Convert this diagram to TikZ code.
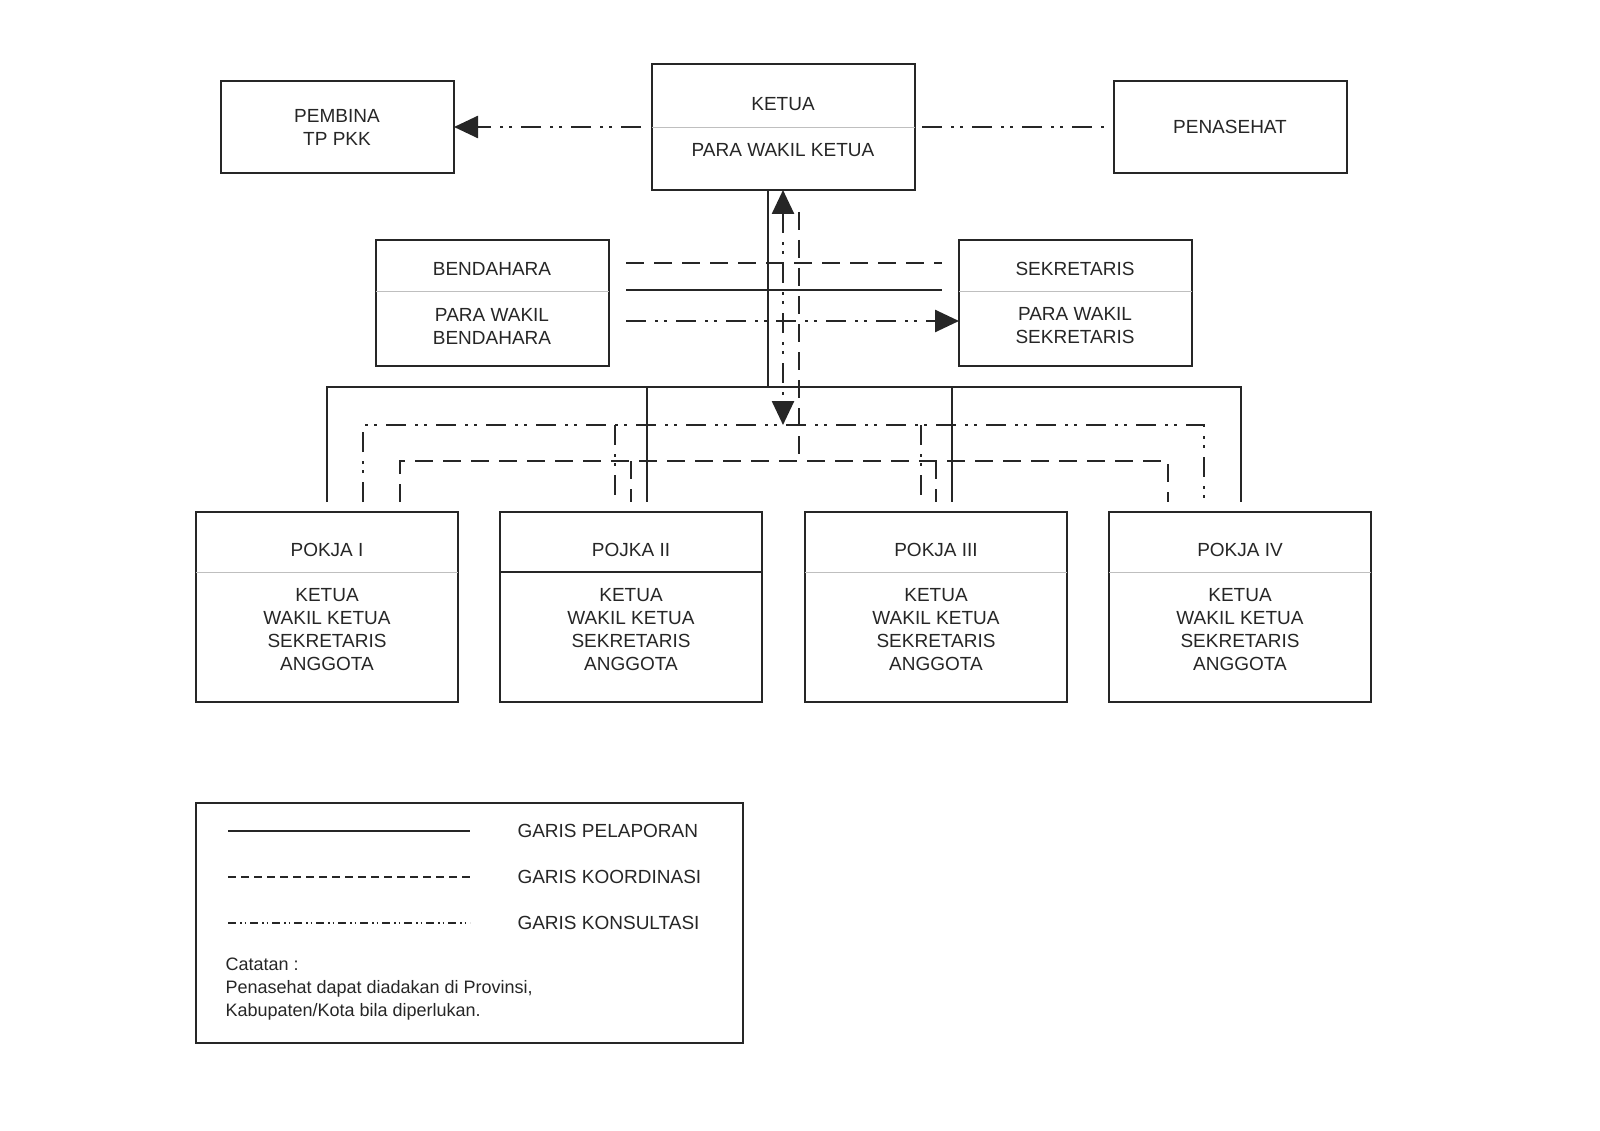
\documentclass[tikz,border=0pt]{standalone}
\usepackage{fontspec}
\setmainfont{Liberation Sans}
\usetikzlibrary{arrows.meta}
\begin{document}
\begin{tikzpicture}[x=1pt,y=-1pt,
  box/.style={draw=black!85,line width=2.6pt},
  lap/.style={draw=black!85,line width=2.6pt},
  koor/.style={draw=black!85,line width=2.6pt,dash pattern=on 18pt off 10pt},
  kons/.style={draw=black!85,line width=2.6pt,dash pattern=on 20pt off 9pt on 3pt off 6pt on 3pt off 9pt},
  div/.style={draw=black!25,line width=0.8pt},
  tx/.style={font=\fontsize{19}{23}\selectfont,align=center,text=black!85},
  tip/.style={-{Triangle[length=24pt,width=22pt]}}]
\useasboundingbox (0,0) rectangle (1600,1131);
% boxes
\draw[box] (221,81) rectangle (454,173); \node[tx] (pembina) at (337,127) {PEMBINA\\TP PKK};
\coordinate (pembinaR) at (454,127);
\draw[box] (652,64) rectangle (915,190); \draw[div] (652,127)--(915,127);
\node[tx] (ketua) at (783,104) {KETUA}; \node[tx] (pwk) at (783,150) {PARA WAKIL KETUA};
\draw[box] (1114,81) rectangle (1347,173); \node[tx] (penasehat) at (1230,127) {PENASEHAT};
\draw[box] (376,240) rectangle (609,366); \draw[div] (376,291)--(609,291);
\node[tx] (bend) at (492,269) {BENDAHARA}; \node[tx] (pwb) at (492,326) {PARA WAKIL\\BENDAHARA};
\draw[box] (959,240) rectangle (1192,366); \draw[div] (959,291)--(1192,291);
\node[tx] (sek) at (1075,269) {SEKRETARIS}; \node[tx] (pws) at (1075,326) {PARA WAKIL\\SEKRETARIS};
\foreach \x/\t/\n in {196/POKJA I/1,500/POJKA II/2,805/POKJA III/3,1109/POKJA IV/4}{
  \draw[box] (\x,512) rectangle (\x+262,702);
  \node[tx] (p\n) at (\x+131,550) {\t};
  \node[tx] (m\n) at (\x+131,630) {KETUA\\WAKIL KETUA\\SEKRETARIS\\ANGGOTA};
}
\foreach \x in {196,805,1109} \draw[div] (\x,572)--(\x+262,572);
\draw[draw=black!85,line width=2.6pt] (500,572)--(762,572);
% top connectors
\draw[kons,tip] (641,127) -- (pembinaR);
\draw[kons] (922,127) -- (1104,127);
% bendahara-sekretaris
\draw[koor] (626,263) -- (942,263);
\draw[lap] (626,290) -- (942,290);
\draw[kons,tip] (626,321) -- (959,321);
% solid tree
\draw[lap] (768,190) -- (768,387);
\draw[lap] (327,502) -- (327,387) -- (1241,387) -- (1241,502);
\draw[lap] (647,387) -- (647,502); \draw[lap] (952,387) -- (952,502);
% konsultasi tree
\draw[kons,{Triangle[length=24pt,width=22pt]}-{Triangle[length=24pt,width=22pt]}] (783,190) -- (783,425);
\draw[kons] (363,502) -- (363,425) -- (1204,425) -- (1204,502);
\draw[kons] (615,425) -- (615,502); \draw[kons] (921,425) -- (921,502);
% koordinasi tree
\draw[koor] (799,212) -- (799,461);
\draw[koor] (400,502) -- (400,461) -- (1168,461) -- (1168,502);
\draw[koor] (631,461) -- (631,502); \draw[koor] (936,461) -- (936,502);
% legend
\draw[box] (196,803) rectangle (743,1043);
\draw[black!85,line width=1.2pt] (228,831) -- (470,831);
\draw[black!85,line width=1.2pt,dash pattern=on 8pt off 5pt] (228,877) -- (470,877);
\draw[black!85,line width=1.2pt,dash pattern=on 8pt off 4pt on 1.5pt off 3pt on 1.5pt off 4pt] (228,923) -- (470,923);
\node[tx,anchor=west] (l1) at (514,831) {GARIS PELAPORAN};
\node[tx,anchor=west] (l2) at (514,877) {GARIS KOORDINASI};
\node[tx,anchor=west] (l3) at (514,923) {GARIS KONSULTASI};
\node[tx,anchor=north west,align=left,font=\fontsize{18}{23}\selectfont] (cat) at (222,954) {Catatan :\\Penasehat dapat diadakan di Provinsi,\\Kabupaten/Kota bila diperlukan.};
\end{tikzpicture}
\end{document}
